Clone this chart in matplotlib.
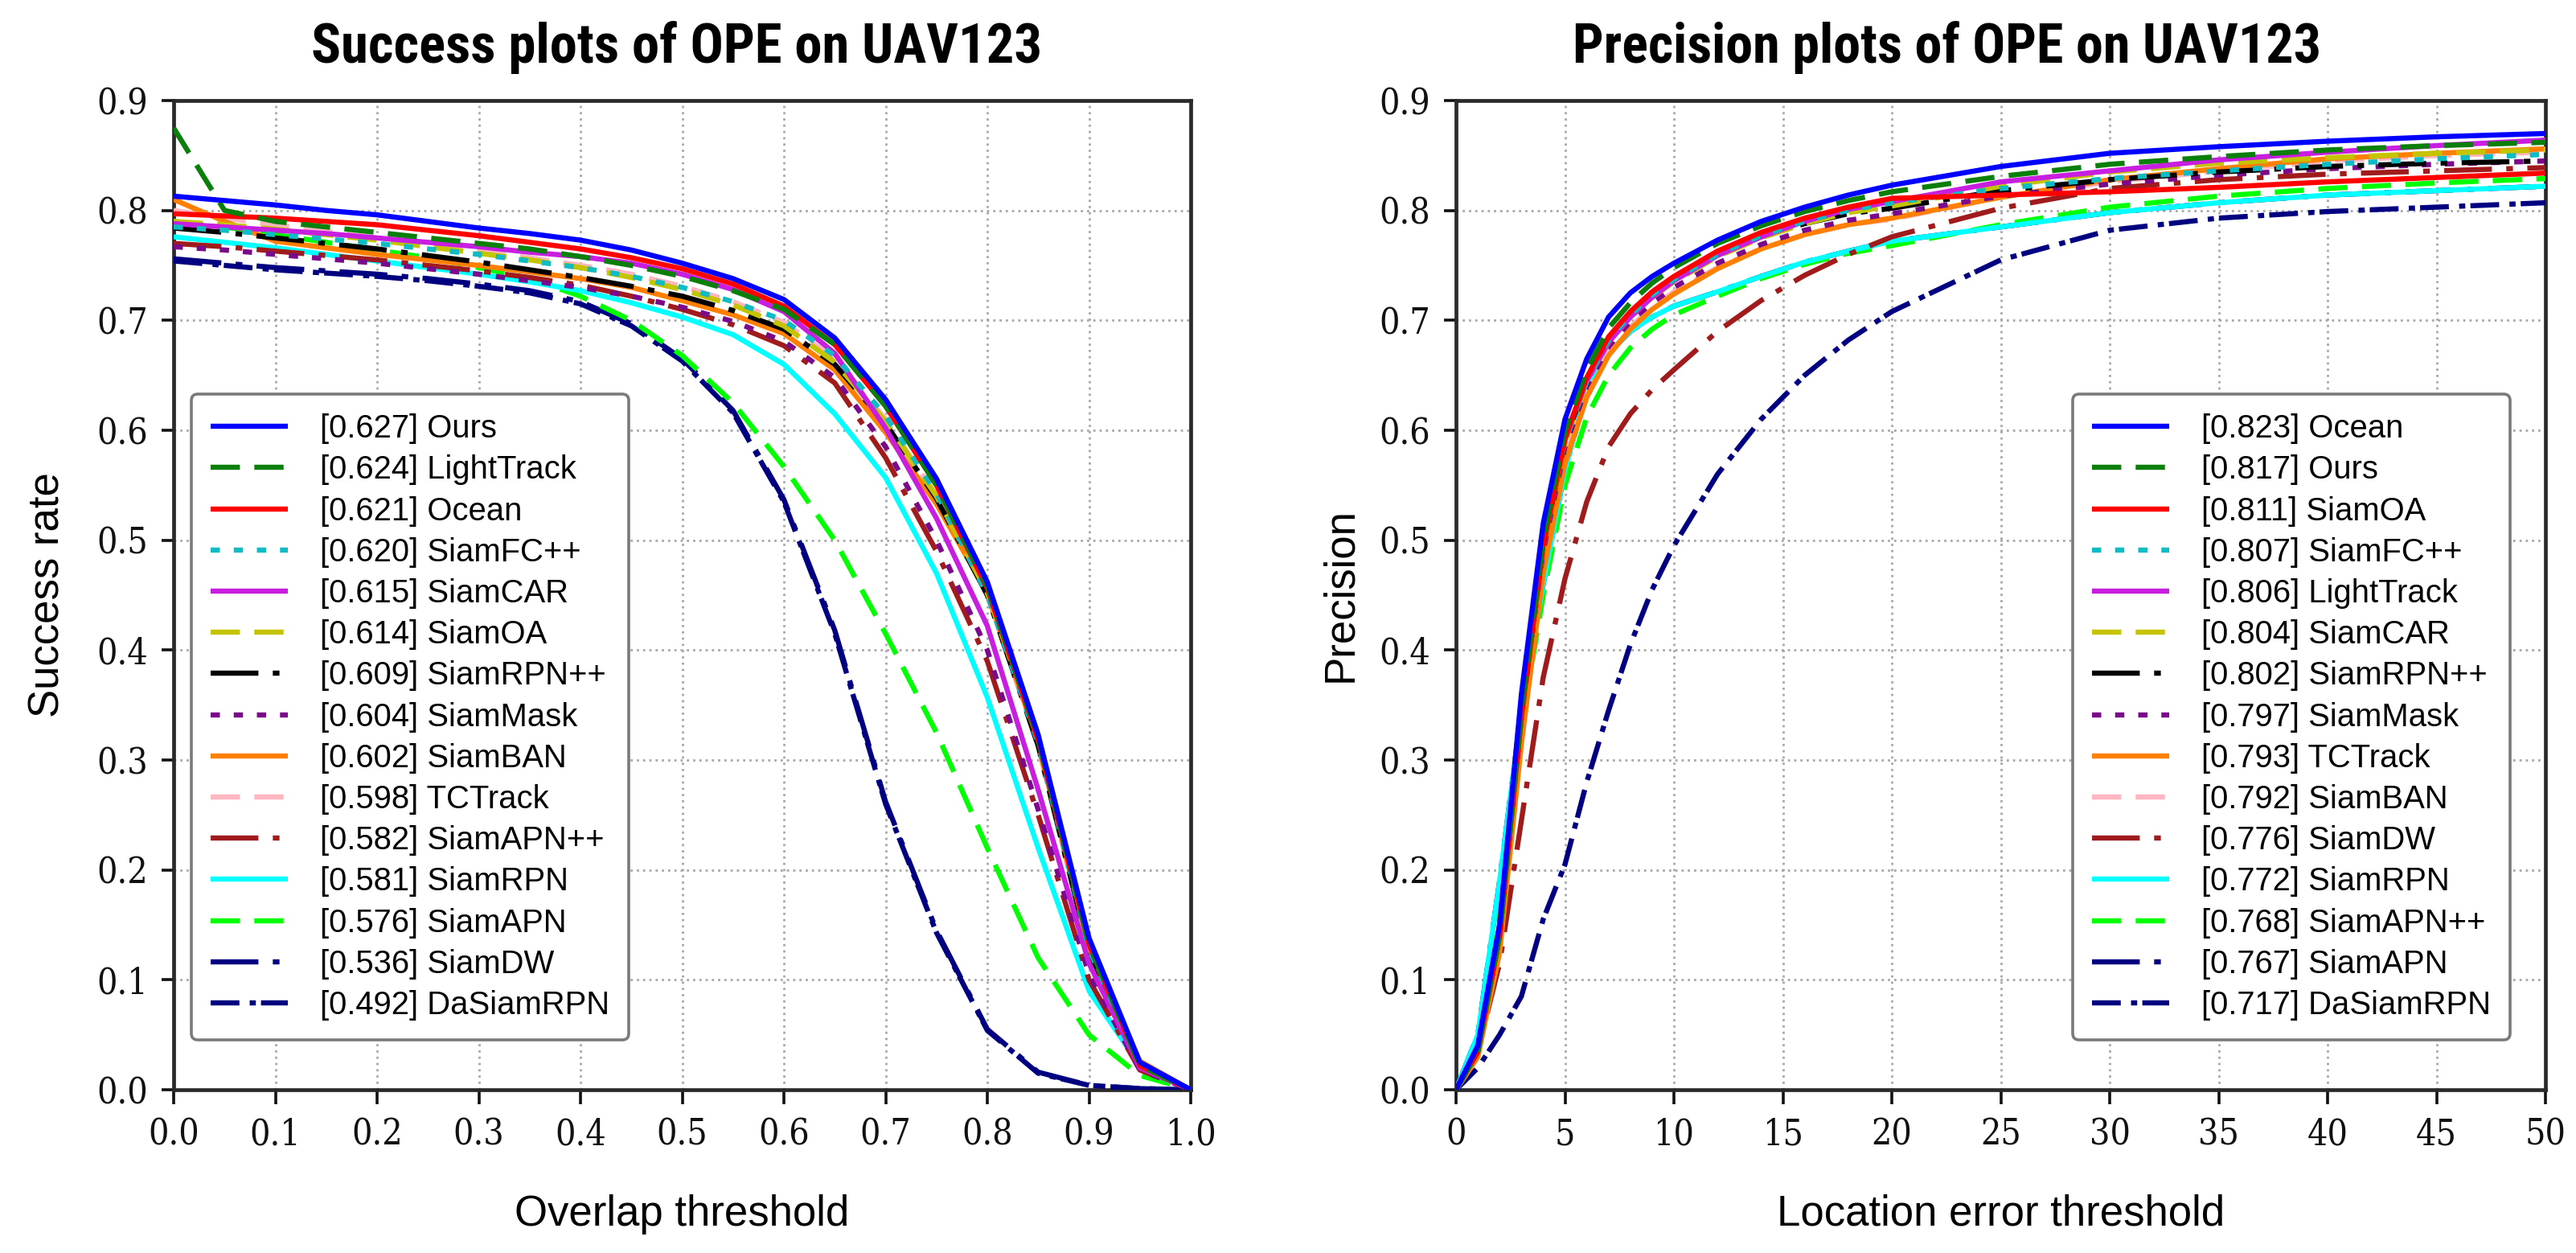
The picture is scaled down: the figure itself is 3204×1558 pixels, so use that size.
import matplotlib
matplotlib.use("Agg")
import matplotlib.pyplot as plt
from matplotlib import font_manager as fm

# ---------------- data: success plot (overlap threshold) ----------------
succ_x = [0.00, 0.05, 0.10, 0.15, 0.20, 0.25, 0.30, 0.35, 0.40, 0.45, 0.50,
          0.55, 0.60, 0.65, 0.70, 0.75, 0.80, 0.85, 0.90, 0.95, 1.00]
succ_names = ["Ours", "LightTrack", "Ocean", "SiamFC++", "SiamCAR", "SiamOA",
              "SiamRPN++", "SiamMask", "SiamBAN", "TCTrack", "SiamAPN++",
              "SiamRPN", "SiamAPN", "SiamDW", "DaSiamRPN"]
succ_scores = [0.627, 0.624, 0.621, 0.620, 0.615, 0.614, 0.609, 0.604, 0.602,
               0.598, 0.582, 0.581, 0.576, 0.536, 0.492]
succ_ours = [.813, .809, .805, .800, .796, .790, .784, .779, .773, .764, .752, .738, .719, .684, .628, .556, .462, .323, .138, .025, .0]
succ_lighttrack = [.875, .800, .790, .785, .780, .775, .770, .765, .758, .750, .740, .727, .710, .678, .622, .550, .458, .320, .132, .022, .0]
succ_ocean = [.797, .795, .793, .790, .787, .782, .777, .771, .765, .757, .747, .733, .713, .678, .622, .550, .456, .318, .132, .022, .0]
succ_siamfcpp = [.785, .782, .778, .774, .770, .765, .760, .754, .748, .740, .730, .717, .700, .668, .613, .543, .450, .315, .128, .022, .0]
succ_siamcar = [.788, .785, .782, .779, .775, .771, .767, .762, .758, .752, .742, .728, .708, .670, .602, .520, .422, .273, .115, .020, .0]
succ_siamoa = [.790, .787, .783, .778, .773, .767, .761, .755, .748, .739, .728, .714, .695, .662, .608, .540, .452, .318, .130, .024, .0]
succ_siamrpnpp = [.784, .780, .775, .770, .765, .759, .753, .746, .739, .731, .722, .709, .692, .660, .606, .538, .450, .313, .125, .022, .0]
succ_siammask = [.767, .764, .760, .756, .752, .747, .742, .736, .730, .722, .712, .699, .681, .648, .585, .500, .400, .255, .105, .018, .0]
succ_siamban = [.810, .790, .772, .766, .760, .755, .750, .744, .738, .730, .718, .705, .688, .655, .598, .533, .452, .315, .128, .026, .0]
succ_tctrack = [.800, .793, .787, .781, .775, .769, .763, .757, .750, .742, .731, .717, .698, .665, .610, .540, .450, .312, .125, .022, .0]
succ_siamapnpp = [.770, .767, .763, .759, .755, .750, .745, .739, .732, .722, .710, .696, .677, .643, .575, .490, .390, .250, .100, .018, .0]
succ_siamrpn = [.776, .771, .766, .760, .754, .748, .742, .735, .727, .716, .703, .687, .660, .615, .557, .470, .357, .220, .090, .022, .0]
succ_siamapn = [.790, .785, .778, .771, .764, .757, .748, .738, .722, .700, .668, .625, .567, .500, .415, .325, .220, .120, .050, .013, .0]
succ_siamdw = [.756, .752, .748, .745, .742, .738, .733, .727, .717, .697, .665, .618, .537, .418, .262, .145, .055, .016, .004, .001, .0]
succ_dasiamrpn = [.754, .750, .746, .743, .740, .736, .731, .725, .715, .695, .663, .616, .535, .415, .260, .143, .054, .015, .004, .001, .0]
succ_values = [succ_ours, succ_lighttrack, succ_ocean, succ_siamfcpp, succ_siamcar,
               succ_siamoa, succ_siamrpnpp, succ_siammask, succ_siamban, succ_tctrack,
               succ_siamapnpp, succ_siamrpn, succ_siamapn, succ_siamdw, succ_dasiamrpn]

# ---------------- data: precision plot (location error threshold) ----------------
prec_x = [0, 1, 2, 3, 4, 5, 6, 7, 8, 9, 10, 12, 14, 16, 18, 20, 25, 30, 35, 40, 45, 50]
prec_names = ["Ocean", "Ours", "SiamOA", "SiamFC++", "LightTrack", "SiamCAR",
              "SiamRPN++", "SiamMask", "TCTrack", "SiamBAN", "SiamDW", "SiamRPN",
              "SiamAPN++", "SiamAPN", "DaSiamRPN"]
prec_scores = [0.823, 0.817, 0.811, 0.807, 0.806, 0.804, 0.802, 0.797, 0.793,
               0.792, 0.776, 0.772, 0.768, 0.767, 0.717]
prec_ocean = [0, .040, .150, .360, .515, .610, .665, .703, .725, .740, .752, .773, .790, .803, .814, .823, .840, .852, .858, .863, .867, .870]
prec_ours = [0, .035, .140, .345, .500, .600, .655, .693, .716, .734, .748, .770, .786, .799, .809, .817, .831, .842, .849, .855, .859, .862]
prec_siamoa = [0, .035, .140, .340, .495, .592, .648, .685, .708, .726, .740, .763, .780, .793, .803, .811, .814, .817, .821, .826, .830, .834]
prec_siamfcpp = [0, .035, .140, .340, .495, .590, .645, .682, .705, .723, .737, .760, .777, .790, .800, .807, .820, .829, .836, .842, .847, .851]
prec_lighttrack = [0, .040, .150, .355, .505, .595, .645, .680, .703, .721, .736, .759, .776, .790, .801, .808, .826, .836, .846, .853, .859, .864]
prec_siamcar = [0, .035, .140, .340, .495, .590, .645, .680, .703, .721, .735, .758, .775, .788, .798, .804, .822, .835, .843, .848, .852, .855]
prec_siamrpnpp = [0, .035, .140, .340, .495, .590, .645, .682, .705, .723, .737, .759, .776, .788, .797, .802, .818, .828, .835, .840, .843, .845]
prec_siammask = [0, .035, .140, .340, .490, .585, .640, .676, .699, .716, .730, .752, .769, .782, .791, .797, .813, .824, .832, .838, .842, .845]
prec_tctrack = [0, .030, .125, .315, .470, .570, .630, .668, .692, .710, .724, .747, .765, .778, .787, .793, .812, .828, .838, .847, .852, .856]
prec_siamban = [0, .030, .130, .320, .475, .575, .632, .670, .694, .712, .726, .748, .765, .778, .787, .792, .812, .826, .836, .845, .850, .853]
prec_siamdw = [0, .035, .115, .245, .375, .465, .535, .585, .615, .637, .655, .690, .718, .741, .760, .776, .802, .820, .828, .833, .836, .839]
prec_siamrpn = [0, .050, .190, .345, .460, .565, .635, .670, .690, .703, .713, .726, .740, .753, .763, .772, .785, .798, .807, .814, .818, .822]
prec_siamapnpp = [0, .045, .175, .330, .450, .550, .612, .650, .675, .692, .705, .722, .738, .751, .761, .768, .787, .803, .813, .820, .825, .829]
prec_siamapn = [0, .050, .190, .345, .460, .565, .635, .670, .690, .703, .713, .726, .740, .753, .763, .772, .785, .798, .807, .814, .818, .822]
prec_dasiamrpn = [0, .020, .050, .085, .155, .205, .280, .345, .405, .455, .495, .560, .610, .650, .682, .708, .755, .782, .793, .799, .803, .807]
prec_values = [prec_ocean, prec_ours, prec_siamoa, prec_siamfcpp, prec_lighttrack,
               prec_siamcar, prec_siamrpnpp, prec_siammask, prec_tctrack, prec_siamban,
               prec_siamdw, prec_siamrpn, prec_siamapnpp, prec_siamapn, prec_dasiamrpn]

succ_ticks = [0.0, 0.1, 0.2, 0.3, 0.4, 0.5, 0.6, 0.7, 0.8, 0.9, 1.0]
prec_ticks = [0, 5, 10, 15, 20, 25, 30, 35, 40, 45, 50]
y_ticks = [0.0, 0.1, 0.2, 0.3, 0.4, 0.5, 0.6, 0.7, 0.8, 0.9]

# ---------------- styles (by rank) ----------------
colors = ['#0000ff', '#0a7f0a', '#ff0000', '#10bcc4', '#c81ee0', '#c4c400',
          '#000000', '#7a0a8a', '#ff8000', '#ffb6c1', '#a01c1c', '#00ffff',
          '#00ff00', '#000080', '#000080']
SOLID = '-'
DASHED = (0, (5.7, 2.8))
DOTTED = (0, (1.8, 2.7))
DASHDOT = (0, (9.3, 2.8, 1.3, 2.8))
DASHDOT2 = (0, (5.6, 2.0, 1.2, 1.0))
styles = [SOLID, DASHED, SOLID, DOTTED, SOLID, DASHED, DASHDOT, DOTTED, SOLID,
          DASHED, DASHDOT, SOLID, DASHED, DASHDOT, DASHDOT2]
LW = 2.3


def font_path(name, **kw):
    try:
        return fm.findfont(fm.FontProperties(family=name, **kw), fallback_to_default=False)
    except Exception:
        return None


# title font: prefer a narrow / condensed bold sans
title_family = None
for fam, kw in [('Liberation Sans Narrow', {}), ('Arial Narrow', {}),
                ('Noto Sans Condensed', {}), ('Noto Sans', {'stretch': 'condensed'}),
                ('Roboto Condensed', {}), ('Open Sans Condensed', {}),
                ('Open Sans', {'stretch': 'condensed'})]:
    p = font_path(fam, weight='bold', **kw)
    if p and (('Narrow' in p) or ('ondensed' in p)):
        title_family = (fam, kw)
        break
if title_family is None:
    title_font = dict(family=['Liberation Sans', 'DejaVu Sans'], weight='bold', size=17)
else:
    title_font = dict(family=[title_family[0], 'DejaVu Sans'], weight='bold', size=20,
                      **title_family[1])

# tick font: condensed serif
tick_font = None
if font_path('DejaVu Serif Condensed'):
    tick_font = dict(family=['DejaVu Serif Condensed'], size=16)
else:
    p = font_path('DejaVu Serif', stretch='condensed')
    if p and 'ondensed' in p:
        tick_font = dict(family=['DejaVu Serif'], stretch='condensed', size=16)
if tick_font is None:
    tick_font = dict(family=['Liberation Serif', 'DejaVu Serif'], size=18)

label_font = dict(family=['Liberation Sans', 'DejaVu Sans'], size=19)
legend_font = fm.FontProperties(family=['Liberation Sans', 'DejaVu Sans'], size=14.4)

W, H = 3204, 1558
fig = plt.figure(figsize=(W / 200, H / 200), dpi=200)
fig.patch.set_facecolor('white')

ax_top, ax_bot = 125, 1355
ax1 = fig.add_axes([216 / W, 1 - ax_bot / H, (1481 - 216) / W, (ax_bot - ax_top) / H])
ax2 = fig.add_axes([1811 / W, 1 - ax_bot / H, (3166 - 1811) / W, (ax_bot - ax_top) / H])


def style_axes(ax, xticks, xticklabels, xlim):
    ax.set_xlim(*xlim)
    ax.set_ylim(0, 0.9)
    ax.set_xticks(xticks)
    ax.set_xticklabels(xticklabels, fontdict=tick_font)
    ax.set_yticks(y_ticks)
    ax.set_yticklabels([f"{v:.1f}" for v in y_ticks], fontdict=tick_font)
    ax.tick_params(axis='x', direction='out', length=6.5, width=1.3, pad=6, colors='#111111',
                   top=False)
    ax.tick_params(axis='y', direction='out', length=5.5, width=1.3, pad=6, colors='#111111',
                   right=False)
    for s in ax.spines.values():
        s.set_linewidth(1.7)
        s.set_color('#2a2a2a')
    ax.grid(True, linestyle=(0, (1, 1.8)), color='#a8a8a8', linewidth=1.0)
    ax.set_axisbelow(True)


def draw(ax, xs, values, names, scores):
    handles = []
    for i in range(len(values)):
        ln, = ax.plot(xs, values[i], color=colors[i], linestyle=styles[i], linewidth=LW,
                      label=f"[{scores[i]:.3f}] {names[i]}", zorder=100 - i,
                      solid_capstyle='butt', dash_capstyle='butt')
        handles.append(ln)
    return handles


h1 = draw(ax1, succ_x, succ_values, succ_names, succ_scores)
style_axes(ax1, succ_ticks, [f"{v:.1f}" for v in succ_ticks], (0, 1))
h2 = draw(ax2, prec_x, prec_values, prec_names, prec_scores)
style_axes(ax2, prec_ticks, [str(v) for v in prec_ticks], (0, 50))

ax1.set_xlabel("Overlap threshold", fontdict=label_font, va='top')
ax1.xaxis.set_label_coords(0.5, (ax_bot - 1485) / (ax_bot - ax_top))
ax1.set_ylabel("Success rate", fontdict=label_font)
ax1.yaxis.set_label_coords((84 - 216) / (1481 - 216), 0.5)

ax2.set_xlabel("Location error threshold", fontdict=label_font, va='top')
ax2.xaxis.set_label_coords(0.5, (ax_bot - 1485) / (ax_bot - ax_top))
ax2.set_ylabel("Precision", fontdict=label_font)
ax2.yaxis.set_label_coords((1692 - 1811) / (3166 - 1811), 0.5)

leg_kw = dict(prop=legend_font, handlelength=2.4, handletextpad=1.0, labelspacing=0.33,
              borderpad=0.6, borderaxespad=0.0, fancybox=True, framealpha=1.0,
              edgecolor='#7a7a7a', facecolor='white')
lg1 = ax1.legend(handles=h1, loc='lower left', bbox_to_anchor=(0.0174, 0.0504), **leg_kw)
lg2 = ax2.legend(handles=h2, loc='lower right', bbox_to_anchor=(0.9675, 0.0504), **leg_kw)
for lg in (lg1, lg2):
    lg.get_frame().set_linewidth(1.3)
    lg.set_zorder(200)

t1 = fig.text(842 / W, 1 - 78 / H, "Success plots of OPE on UAV123", ha='center',
              va='baseline', **title_font)
t2 = fig.text(2422 / W, 1 - 78 / H, "Precision plots of OPE on UAV123", ha='center',
              va='baseline', **title_font)

# fit the title widths to the reference widths
fig.canvas.draw()
r = fig.canvas.get_renderer()
for t, target in ((t1, 908.0), (t2, 930.0)):
    w = t.get_window_extent(renderer=r).width
    if w > 0:
        t.set_fontsize(t.get_fontsize() * target / w)

fig.savefig("out.png", dpi=200, facecolor='white')
